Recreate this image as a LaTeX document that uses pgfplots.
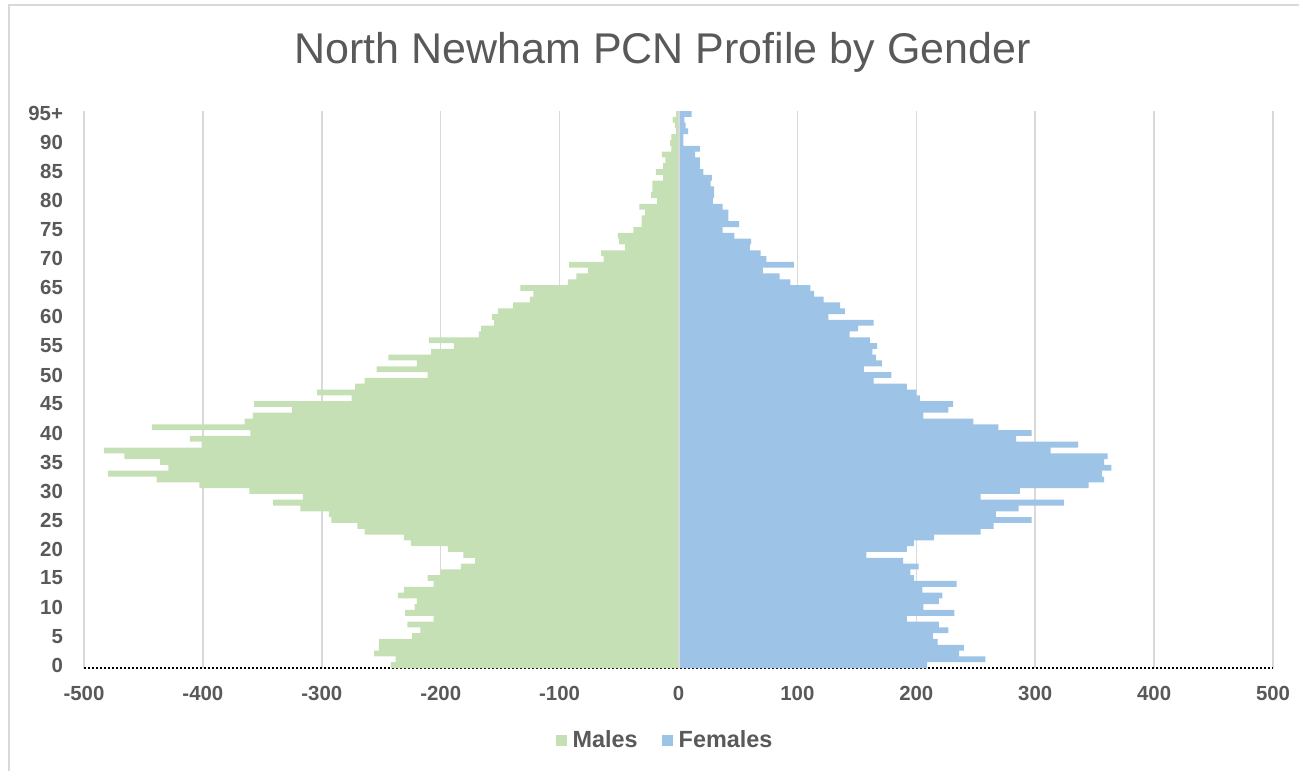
\documentclass[border=0pt]{standalone}
\usepackage{fontspec}
\setmainfont{Liberation Sans}
\usepackage{pgfplots}
\usepackage{pgfplotstable}
\pgfplotsset{compat=1.18}
\definecolor{mgreen}{HTML}{C5E0B4}
\definecolor{fblue}{HTML}{9DC3E6}
\definecolor{gridc}{HTML}{D9D9D9}
\definecolor{tc}{HTML}{595959}
\pgfplotstableread{
age male female
0 -242 209
1 -238 258
2 -256 236
3 -252 240
4 -252 218
5 -224 214
6 -217 227
7 -228 219
8 -206 192
9 -230 232
10 -222 206
11 -220 219
12 -236 222
13 -231 205
14 -206 234
15 -211 198
16 -200 195
17 -183 202
18 -171 189
19 -181 158
20 -194 192
21 -225 198
22 -231 215
23 -264 254
24 -270 265
25 -292 297
26 -294 267
27 -318 286
28 -341 324
29 -316 254
30 -361 287
31 -403 345
32 -439 358
33 -480 356
34 -429 364
35 -436 358
36 -466 361
37 -483 313
38 -401 336
39 -411 284
40 -360 297
41 -443 269
42 -365 248
43 -358 206
44 -325 227
45 -357 231
46 -275 203
47 -304 200
48 -272 192
49 -264 164
50 -211 179
51 -254 156
52 -220 171
53 -244 166
54 -208 163
55 -189 167
56 -210 161
57 -168 144
58 -166 151
59 -155 164
60 -157 126
61 -152 140
62 -139 136
63 -125 122
64 -122 114
65 -133 111
66 -93 94
67 -86 85
68 -76 71
69 -92 97
70 -63 74
71 -65 69
72 -45 60
73 -50 61
74 -51 47
75 -38 37
76 -31 51
77 -31 42
78 -28 42
79 -33 37
80 -18 29
81 -23 30
82 -22 30
83 -22 27
84 -13 28
85 -19 21
86 -13 18
87 -11 18
88 -14 14
89 -6 18
90 -7 4
91 -6 4
92 -2 8
93 -3 6
94 -5 5
95 -2 11
}\pyramid
\begin{document}
\begin{tikzpicture}
\useasboundingbox (0,0) rectangle (649.5pt,385.5pt);
% chart frame (left and top)
\draw[gridc, line width=0.8pt] (4.5pt,0) -- (4.5pt,383pt) -- (649.5pt,383pt);
\node[anchor=base, inner sep=0pt, text=tc, font=\fontsize{21.5}{24}\selectfont] at (331.25pt,353.5pt) {North Newham PCN Profile by Gender};
\begin{axis}[
  at={(42pt,51.5pt)}, anchor=south west,
  scale only axis,
  width=594.5pt, height=278.5pt,
  xmin=-500, xmax=500, ymin=-0.5, ymax=95.5,
  xbar, bar width=1,
  xtick={-500,-400,...,500},
  xticklabels={-500,-400,-300,-200,-100,0,100,200,300,400,500},
  ytick={0,5,...,95},
  yticklabels={0,5,10,15,20,25,30,35,40,45,50,55,60,65,70,75,80,85,90,95+},
  major tick length=0pt,
  xmajorgrids, major grid style={gridc, line width=0.75pt},
  axis x line*=bottom, axis y line*=left,
  x axis line style={-, black, densely dotted, line width=1pt},
  y axis line style={draw=none},
  tick label style={font=\bfseries\fontsize{10.2}{12}\selectfont, text=tc},
  xticklabel style={yshift=-5.5pt},
  yticklabel style={xshift=-7pt},
  legend columns=2,
  legend style={at={(0.4895,-0.131)}, anchor=center, draw=none, fill=none,
    font=\bfseries\fontsize{11.7}{13}\selectfont, text=tc,
    /tikz/every even column/.append style={column sep=10pt},
    /tikz/every odd column/.append style={column sep=1pt}},
]
\addplot[fill=mgreen, draw=none, bar shift=0pt,
  legend image code/.code={\fill[mgreen] (0pt,-2.75pt) rectangle (5.5pt,2.75pt);}]
  table[x=male, y=age] {\pyramid};
\addlegendentry{Males}
\addplot[fill=fblue, draw=none, bar shift=0pt,
  legend image code/.code={\fill[fblue] (0pt,-2.75pt) rectangle (5.5pt,2.75pt);}]
  table[x=female, y=age] {\pyramid};
\addlegendentry{Females}
\draw[gridc, line width=1pt] (axis cs:0,-0.5) -- (axis cs:0,95.5);
\end{axis}
\end{tikzpicture}
\end{document}
